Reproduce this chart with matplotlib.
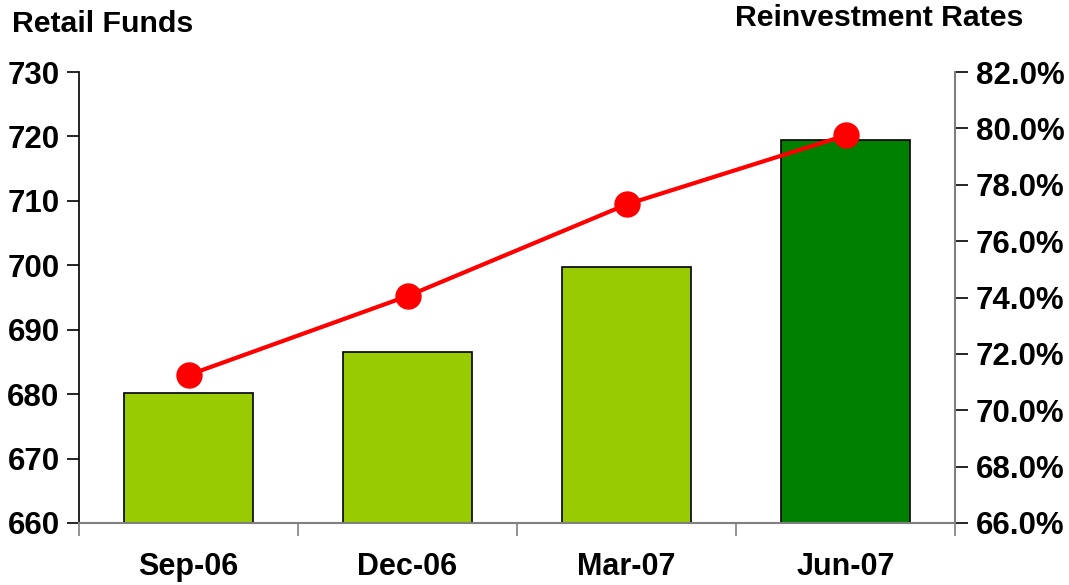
import matplotlib
matplotlib.use("Agg")
import matplotlib.pyplot as plt
from matplotlib.ticker import FuncFormatter, FixedLocator

categories = ["Sep-06", "Dec-06", "Mar-07", "Jun-07"]
retail_funds = [680.1, 686.6, 699.8, 719.5]
reinvest_rates = [71.25, 74.05, 77.3, 79.75]
bar_colors = ["#99CC00", "#99CC00", "#99CC00", "#008000"]

plt.rcParams['font.family'] = ['Liberation Sans', 'DejaVu Sans']
plt.rcParams['font.weight'] = 'bold'

fig = plt.figure(figsize=(10.69, 5.85), dpi=100)
ax = fig.add_axes([79/1069, 1-523/585, (955-79)/1069, (523-72)/585])
x = list(range(len(categories)))
ax.bar(x, [v - 660 for v in retail_funds], bottom=660, width=0.59,
       color=bar_colors, edgecolor="black", linewidth=1.2, zorder=2)
ax.set_xlim(-0.5, 3.5)
ax.set_ylim(660, 730)
ax.set_yticks(range(660, 731, 10))
ax.set_xticks(x)
ax.set_xticklabels(categories)
ax.xaxis.set_minor_locator(FixedLocator([-0.5, 0.5, 1.5, 2.5, 3.5]))
ax.tick_params(axis='x', which='major', length=0, pad=21, labelsize=22)
ax.tick_params(axis='x', which='minor', length=9, width=1.2, color="#808080", direction='out')
ax.tick_params(axis='y', length=9, width=1.2, direction='out', labelsize=22.5, pad=5)
for s in ['top', 'right']:
    ax.spines[s].set_visible(False)
ax.spines['bottom'].set_color("#808080")
ax.spines['bottom'].set_linewidth(1.5)
ax.spines['left'].set_linewidth(1.2)

ax2 = ax.twinx()
ax2.plot(x, reinvest_rates, color="#FF0000", linewidth=3, marker='o',
         markersize=18, zorder=3)
ax2.set_ylim(66, 82)
ax2.set_yticks(range(66, 83, 2))
ax2.yaxis.set_major_formatter(FuncFormatter(lambda v, p: f"{v:.1f}%"))
ax2.tick_params(axis='y', length=9, width=1.2, direction='out', labelsize=22.5, pad=6)
for s in ['top', 'left', 'bottom']:
    ax2.spines[s].set_visible(False)
ax2.spines['right'].set_color("#808080")
ax2.spines['right'].set_linewidth(1.5)

fig.text(12/1069, 1-24/585, "Retail Funds", fontsize=21.8, fontweight='bold', va='center', ha='left')
fig.text(1023/1069, 1-18/585, "Reinvestment Rates", fontsize=21.8, fontweight='bold', va='center', ha='right')

fig.savefig("out.png", dpi=100)
